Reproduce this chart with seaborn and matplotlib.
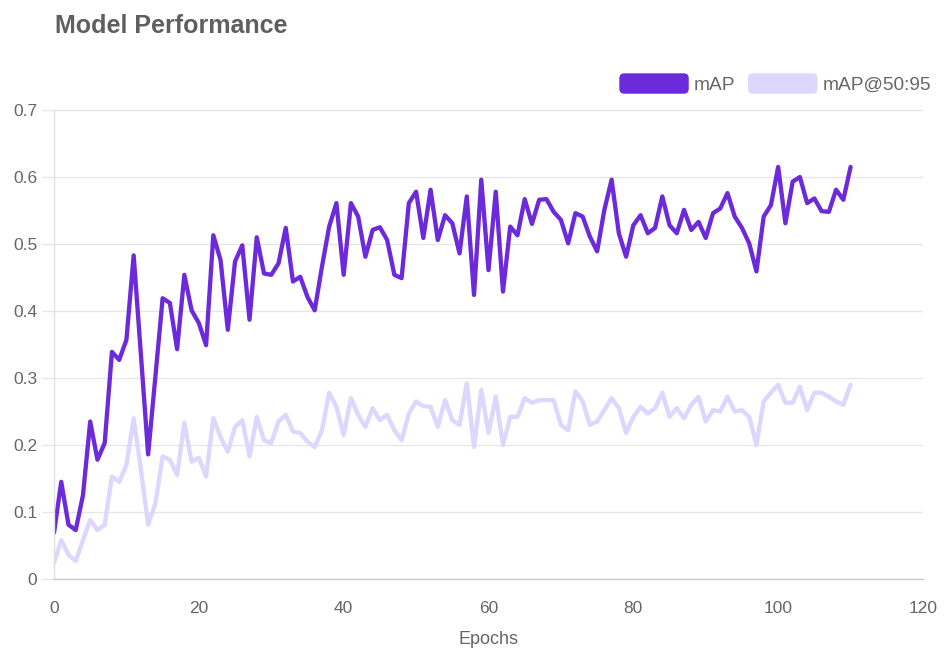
import matplotlib
matplotlib.use("Agg")
import matplotlib.pyplot as plt
import seaborn as sns
import pandas as pd
from matplotlib.patches import Patch, FancyBboxPatch
from matplotlib.legend_handler import HandlerPatch

epochs = list(range(111))
map_vals = [
    0.069, 0.145, 0.081, 0.073, 0.125, 0.235, 0.178, 0.203, 0.339, 0.327,
    0.357, 0.483, 0.335, 0.186, 0.302, 0.419, 0.412, 0.343, 0.454, 0.401,
    0.382, 0.349, 0.513, 0.476, 0.372, 0.474, 0.498, 0.387, 0.510, 0.456,
    0.454, 0.471, 0.524, 0.444, 0.451, 0.421, 0.401, 0.466, 0.526, 0.561,
    0.454, 0.561, 0.541, 0.481, 0.521, 0.525, 0.506, 0.454, 0.449, 0.561,
    0.578, 0.509, 0.581, 0.506, 0.543, 0.531, 0.486, 0.571, 0.424, 0.596,
    0.461, 0.578, 0.429, 0.526, 0.513, 0.567, 0.530, 0.566, 0.567, 0.548,
    0.536, 0.501, 0.546, 0.541, 0.511, 0.489, 0.551, 0.596, 0.516, 0.481,
    0.528, 0.543, 0.516, 0.524, 0.571, 0.528, 0.516, 0.551, 0.521, 0.533,
    0.509, 0.546, 0.553, 0.576, 0.541, 0.524, 0.501, 0.459, 0.541, 0.558,
    0.615, 0.531, 0.593, 0.600, 0.561, 0.568, 0.549, 0.548, 0.581, 0.566,
    0.615,
]
map5095_vals = [
    0.024, 0.058, 0.036, 0.027, 0.058, 0.088, 0.073, 0.081, 0.153, 0.145,
    0.170, 0.240, 0.163, 0.081, 0.113, 0.183, 0.178, 0.155, 0.233, 0.175,
    0.181, 0.153, 0.240, 0.212, 0.190, 0.227, 0.237, 0.183, 0.242, 0.207,
    0.203, 0.235, 0.245, 0.220, 0.218, 0.205, 0.197, 0.222, 0.278, 0.257,
    0.215, 0.270, 0.245, 0.227, 0.255, 0.237, 0.245, 0.222, 0.207, 0.247,
    0.265, 0.258, 0.257, 0.227, 0.267, 0.237, 0.230, 0.292, 0.197, 0.282,
    0.218, 0.272, 0.200, 0.242, 0.242, 0.270, 0.263, 0.267, 0.267, 0.267,
    0.230, 0.222, 0.280, 0.265, 0.230, 0.235, 0.252, 0.270, 0.255, 0.218,
    0.242, 0.257, 0.247, 0.255, 0.278, 0.242, 0.255, 0.240, 0.260, 0.272,
    0.235, 0.252, 0.250, 0.272, 0.250, 0.252, 0.242, 0.200, 0.265, 0.278,
    0.290, 0.263, 0.263, 0.287, 0.252, 0.278, 0.278, 0.272, 0.265, 0.260,
    0.290,
]
series_names = ["mAP", "mAP@50:95"]
x_ticks = [0, 20, 40, 60, 80, 100, 120]
y_ticks = [0, 0.1, 0.2, 0.3, 0.4, 0.5, 0.6, 0.7]
y_tick_labels = ["0", "0.1", "0.2", "0.3", "0.4", "0.5", "0.6", "0.7"]

colors = {"mAP": "#6d2adb", "mAP@50:95": "#ddd6fe"}
text_color = "#666666"

df = pd.concat([
    pd.DataFrame({"Epoch": epochs, "value": map_vals, "series": series_names[0]}),
    pd.DataFrame({"Epoch": epochs, "value": map5095_vals, "series": series_names[1]}),
])

sns.set_theme(style="white")
plt.rcParams["font.family"] = ["Liberation Sans", "DejaVu Sans"]

fig = plt.figure(figsize=(9.45, 6.51), dpi=100)
ax = fig.add_axes([54 / 945, 1 - 579 / 651, (923 - 54) / 945, (579 - 110) / 651])

sns.lineplot(data=df, x="Epoch", y="value", hue="series", hue_order=series_names[::-1],
             palette=colors, linewidth=3.1, legend=False, ax=ax,
             solid_joinstyle="round", solid_capstyle="round")

ax.set_xlim(0, 120)
ax.set_ylim(0, 0.7)
ax.set_xticks(x_ticks)
ax.set_xticklabels([str(t) for t in x_ticks])
ax.set_yticks(y_ticks)
ax.set_yticklabels(y_tick_labels)
ax.grid(axis="y", color="#e6e6e6", linewidth=1.0)
ax.grid(axis="x", visible=False)
ax.set_axisbelow(True)
for s in ["top", "right"]:
    ax.spines[s].set_visible(False)
ax.spines["left"].set_color("#e0e0e0")
ax.spines["left"].set_linewidth(1.0)
ax.spines["bottom"].set_color("#cccccc")
ax.spines["bottom"].set_linewidth(1.0)
ax.tick_params(axis="y", length=9, width=1, color="#e6e6e6", labelsize=12.5,
               labelcolor=text_color, pad=3, left=True)
ax.tick_params(axis="x", length=0, labelsize=12.5, labelcolor=text_color, pad=16)
ax.set_xlabel("Epochs", fontsize=13, color=text_color, labelpad=11)
ax.set_ylabel("")

fig.text(55 / 945, 1 - 26 / 651, "Model Performance", fontsize=18, fontweight="bold",
         color="#5f5f5f", ha="left", va="center")


def rounded_patch(legend, orig_handle, xdescent, ydescent, width, height, fontsize):
    return FancyBboxPatch((-xdescent, -ydescent), width, height,
                          boxstyle="round,pad=0,rounding_size=3",
                          facecolor=orig_handle.get_facecolor(), edgecolor="none")


handles = [Patch(facecolor=colors[n], edgecolor=colors[n], label=n) for n in series_names]
fig.legend(handles=handles, loc="center right", bbox_to_anchor=(931 / 945, 1 - 84 / 651),
           ncol=2, frameon=False, fontsize=13.8, labelcolor=text_color,
           handlelength=3.55, handleheight=1.15, handletextpad=0.3, columnspacing=0.7,
           borderaxespad=0, borderpad=0,
           handler_map={Patch: HandlerPatch(patch_func=rounded_patch)})

fig.savefig("out.png", dpi=100, facecolor="white")
